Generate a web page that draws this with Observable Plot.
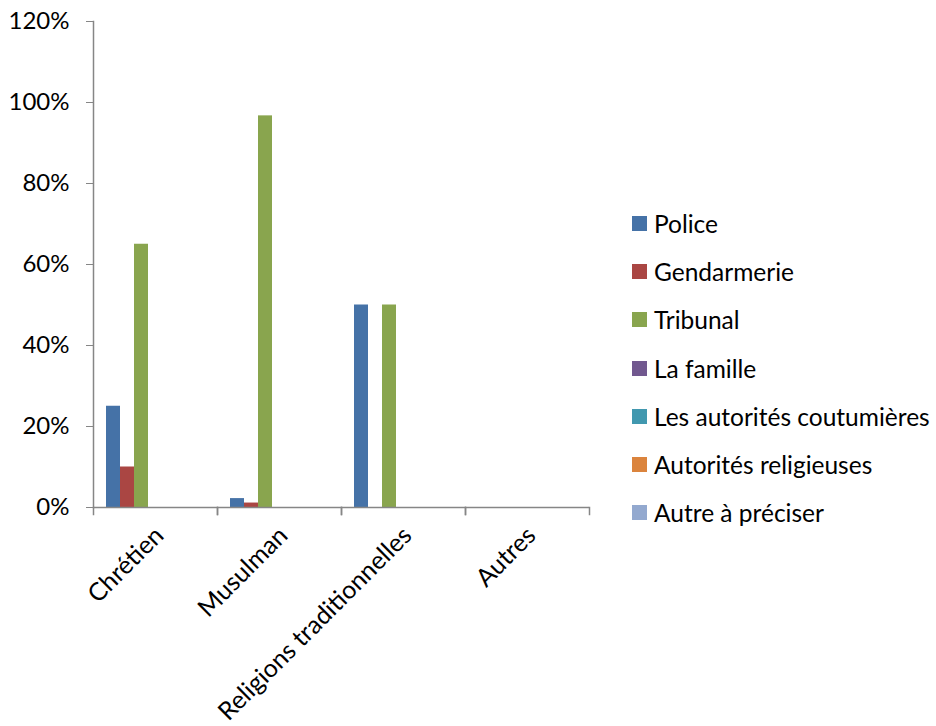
<!DOCTYPE html>
<html>
<head>
<meta charset="utf-8">
<script src="https://cdn.jsdelivr.net/npm/d3@7"></script>
<script src="https://cdn.jsdelivr.net/npm/@observablehq/plot@0.6"></script>
<style>
  html, body { margin: 0; padding: 0; background: #fff; }
  #wrap { position: relative; width: 936px; height: 726px; overflow: hidden; font-family: Lato, "Open Sans", sans-serif; }
  #chart { position: absolute; left: 0; top: 0; }
  #legend { position: absolute; left: 632px; top: 199px; }
  .row { display: flex; align-items: center; height: 48.3px; font-size: 24.5px; color: #000; white-space: nowrap; }
  .sw { width: 15px; height: 15px; margin-right: 7px; flex: none; }
</style>
</head>
<body>
<div id="wrap">
  <div id="chart"></div>
  <div id="legend"></div>
</div>
<script>
const categories = ["Chrétien", "Musulman", "Religions traditionnelles", "Autres"];
const series = ["Police", "Gendarmerie", "Tribunal", "La famille", "Les autorités coutumières", "Autorités religieuses", "Autre à préciser"];
const colors = ["#4572A7", "#AA4643", "#89A54E", "#71588F", "#4198AF", "#DB843D", "#93A9CF"];

// values in % per category (Chrétien, Musulman, Religions traditionnelles, Autres)
const police       = [25, 2.2, 50, 0];
const gendarmerie  = [10, 1.1, 0, 0];
const tribunal     = [65, 96.7, 50, 0];
const famille      = [0, 0, 0, 0];
const coutumieres  = [0, 0, 0, 0];
const religieuses  = [0, 0, 0, 0];
const autre        = [0, 0, 0, 0];
const yTicks = [0, 20, 40, 60, 80, 100, 120];

const seriesValues = [police, gendarmerie, tribunal, famille, coutumieres, religieuses, autre];
const table = [];
categories.forEach((c, i) => {
  series.forEach((s, j) => {
    table.push({category: c, series: s, value: seriesValues[j][i]});
  });
});

const axisColor = "#868686";
const plotH = 486;

const chart = Plot.plot({
  width: 600,
  height: 726,
  marginLeft: 92,
  marginRight: 10,
  marginTop: 21,
  marginBottom: 219,
  style: {fontFamily: "Lato, 'Open Sans', sans-serif", fontSize: "24px", color: "#000", background: "#fff"},
  fx: {domain: categories, padding: 0, label: null},
  x: {domain: series, paddingInner: 0, paddingOuter: 0.65, axis: null},
  y: {domain: [0, 120], ticks: yTicks, tickFormat: d => d + "%", label: null, tickSize: 7, tickPadding: 17},
  color: {domain: series, range: colors},
  marks: [
    Plot.barY(table, {fx: "category", x: "series", y: "value", fill: "series", filter: d => d.value > 0}),
    Plot.ruleY([0], {stroke: axisColor, strokeWidth: 1.5}),
    Plot.frame({anchor: "left", stroke: axisColor, strokeWidth: 1.5, insetTop: plotH, insetBottom: -7}),
    Plot.frame({anchor: "right", stroke: axisColor, strokeWidth: 1.5, insetTop: plotH, insetBottom: -7}),
    Plot.frame({anchor: "left", stroke: axisColor, strokeWidth: 1.5, fx: () => categories[0]}),
    Plot.axisFx({anchor: "bottom", tickRotate: -45, tickSize: 0, tickPadding: 24, dx: 4, label: null, fontSize: 25})
  ]
});
document.getElementById("chart").appendChild(chart);

chart.querySelectorAll("g[aria-label='y-axis tick'] path, g[aria-label='y-axis tick']").forEach(el => el.setAttribute("stroke", axisColor));

const legend = document.getElementById("legend");
series.forEach((s, i) => {
  const row = document.createElement("div");
  row.className = "row";
  const sw = document.createElement("span");
  sw.className = "sw";
  sw.style.background = colors[i];
  const t = document.createElement("span");
  t.textContent = s;
  row.appendChild(sw);
  row.appendChild(t);
  legend.appendChild(row);
});
</script>
</body>
</html>
